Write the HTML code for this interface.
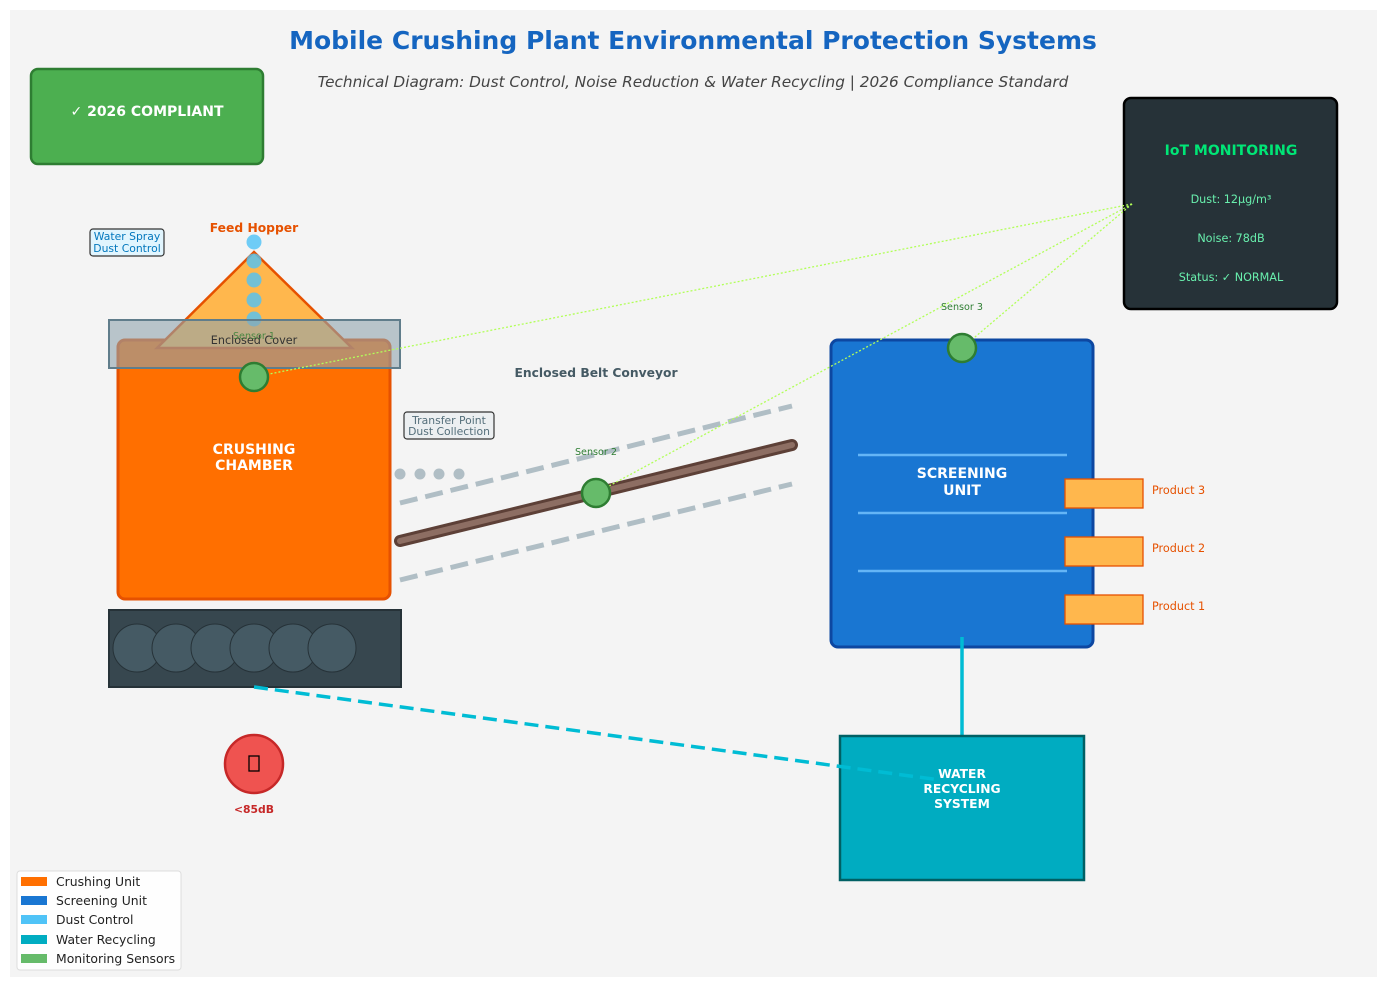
<!DOCTYPE html>
<html><head><meta charset="utf-8"><style>
html,body{margin:0;padding:0;background:#fff;}
svg{display:block;font-family:"DejaVu Sans","Liberation Sans",sans-serif;}
</style></head><body>
<svg width="1387" height="987" viewBox="0 0 1387 987" xmlns="http://www.w3.org/2000/svg">
<rect x="0" y="0" width="1387" height="987" fill="#fff"/>
<rect x="10" y="10" width="1367" height="967" fill="#f4f4f4"/>
<text x="693" y="49" text-anchor="middle" font-size="25" font-weight="bold" fill="#1565c0">Mobile Crushing Plant Environmental Protection Systems</text>
<text x="693" y="87" text-anchor="middle" font-size="15.3" font-style="italic" fill="#444">Technical Diagram: Dust Control, Noise Reduction &amp; Water Recycling | 2026 Compliance Standard</text>
<rect x="31" y="69" width="232" height="95" rx="7" fill="#4caf50" stroke="#2e7d32" stroke-width="2.5"/>
<text x="147" y="116" text-anchor="middle" font-size="14" font-weight="bold" fill="#fff">✓ 2026 COMPLIANT</text>
<rect x="1124" y="98" width="213" height="211" rx="7" fill="#263238" stroke="#000" stroke-width="2.5"/>
<text x="1231" y="155" text-anchor="middle" font-size="14" font-weight="bold" fill="#00e676">IoT MONITORING</text>
<text x="1231" y="203" text-anchor="middle" font-size="11.2" fill="#69f0ae">Dust: 12μg/m³</text>
<text x="1231" y="242" text-anchor="middle" font-size="11.2" fill="#69f0ae">Noise: 78dB</text>
<text x="1231" y="281" text-anchor="middle" font-size="11.2" fill="#69f0ae">Status: ✓ NORMAL</text>
<rect x="118" y="340" width="272" height="259" rx="7" fill="#ff6f00" stroke="#e65100" stroke-width="3"/>
<text x="254" y="454" text-anchor="middle" font-size="14" font-weight="bold" fill="#fff">CRUSHING</text>
<text x="254" y="470" text-anchor="middle" font-size="14" font-weight="bold" fill="#fff">CHAMBER</text>
<polygon points="254,252 157,348 352,348" fill="#ffb74d" stroke="#e65100" stroke-width="2.5"/>
<text x="254" y="232" text-anchor="middle" font-size="12.3" font-weight="bold" fill="#e65100">Feed Hopper</text>
<g fill="#4fc3f7" opacity="0.8"><circle cx="254" cy="242" r="7.5"/><circle cx="254" cy="261" r="7.5"/><circle cx="254" cy="280" r="7.5"/><circle cx="254" cy="300" r="7.5"/><circle cx="254" cy="319" r="7.5"/></g>
<rect x="109" y="320" width="291" height="48" fill="#90a4ae" fill-opacity="0.6" stroke="#607d8b" stroke-width="2"/>
<text x="254" y="344" text-anchor="middle" font-size="11.2" fill="#333">Enclosed Cover</text>
<text x="254" y="339" text-anchor="middle" font-size="9.6" fill="#2e7d32" opacity="0.8">Sensor 1</text>
<rect x="90" y="229" width="74" height="27" rx="3" fill="#e1f5fe" stroke="#333" stroke-width="1.2"/>
<text x="127" y="240" text-anchor="middle" font-size="10.8" fill="#0277bd">Water Spray</text>
<text x="127" y="252" text-anchor="middle" font-size="10.8" fill="#0277bd">Dust Control</text>
<rect x="404" y="412" width="90" height="27" rx="3" fill="#eceff1" stroke="#333" stroke-width="1.2"/>
<text x="449" y="424" text-anchor="middle" font-size="10.8" fill="#546e7a">Transfer Point</text>
<text x="449" y="435" text-anchor="middle" font-size="10.8" fill="#546e7a">Dust Collection</text>
<g fill="#b0bec5"><circle cx="400" cy="474" r="5.5"/><circle cx="420" cy="474" r="5.5"/><circle cx="439" cy="474" r="5.5"/><circle cx="459" cy="474" r="5.5"/></g>
<rect x="109" y="610" width="292" height="77" fill="#37474f" stroke="#263238" stroke-width="2"/>
<g fill="#455a64" stroke="#263238" stroke-width="1"><circle cx="137" cy="648" r="24"/><circle cx="176" cy="648" r="24"/><circle cx="215" cy="648" r="24"/><circle cx="254" cy="648" r="24"/><circle cx="293" cy="648" r="24"/><circle cx="332" cy="648" r="24"/></g>
<circle cx="254" cy="764" r="29" fill="#ef5350" stroke="#c62828" stroke-width="2.5"/>
<rect x="249" y="756" width="10" height="15" fill="none" stroke="#000" stroke-width="1.3"/>
<text x="254" y="813" text-anchor="middle" font-size="10.8" font-weight="bold" fill="#c62828">&lt;85dB</text>
<line x1="400" y1="503" x2="792" y2="406" stroke="#b0bec5" stroke-width="5" stroke-dasharray="18,8"/>
<line x1="400" y1="580" x2="792" y2="484" stroke="#b0bec5" stroke-width="5" stroke-dasharray="18,8"/>
<line x1="400" y1="541" x2="792" y2="445" stroke="#5d4037" stroke-width="12" stroke-linecap="round"/>
<line x1="400" y1="541" x2="792" y2="445" stroke="#8d6e63" stroke-width="6" stroke-linecap="round"/>
<text x="596" y="377" text-anchor="middle" font-size="12.3" font-weight="bold" fill="#455a64">Enclosed Belt Conveyor</text>
<rect x="831" y="340" width="262" height="307" rx="7" fill="#1976d2" stroke="#0d47a1" stroke-width="3"/>
<g stroke="#64b5f6" stroke-width="2.5"><line x1="858" y1="455" x2="1067" y2="455"/><line x1="858" y1="513" x2="1067" y2="513"/><line x1="858" y1="571" x2="1067" y2="571"/></g>
<text x="962" y="478" text-anchor="middle" font-size="14" font-weight="bold" fill="#fff">SCREENING</text>
<text x="962" y="495" text-anchor="middle" font-size="14" font-weight="bold" fill="#fff">UNIT</text>
<g fill="#ffb74d" stroke="#e65100" stroke-width="1.3"><rect x="1065" y="479" width="78" height="29"/><rect x="1065" y="537" width="78" height="29"/><rect x="1065" y="595" width="78" height="29"/></g>
<g font-size="11.2" fill="#e65100"><text x="1152" y="494">Product 3</text><text x="1152" y="552">Product 2</text><text x="1152" y="610">Product 1</text></g>
<line x1="962" y1="637" x2="962" y2="737" stroke="#00bcd4" stroke-width="3.5"/>
<rect x="840" y="736" width="244" height="144" fill="#00acc1" stroke="#006064" stroke-width="2.5"/>
<text x="962" y="778" text-anchor="middle" font-size="12.3" font-weight="bold" fill="#fff">WATER</text>
<text x="962" y="793" text-anchor="middle" font-size="12.3" font-weight="bold" fill="#fff">RECYCLING</text>
<text x="962" y="808" text-anchor="middle" font-size="12.3" font-weight="bold" fill="#fff">SYSTEM</text>
<line x1="254" y1="687" x2="940" y2="780" stroke="#00bcd4" stroke-width="3.5" stroke-dasharray="14,7"/>
<g stroke="#b2ff59" stroke-width="1.3" stroke-dasharray="2,2"><line x1="1132" y1="204" x2="254" y2="377"/><line x1="1132" y1="204" x2="596" y2="493"/><line x1="1132" y1="204" x2="962" y2="348"/></g>
<g fill="#66bb6a" stroke="#2e7d32" stroke-width="2.5"><circle cx="254" cy="377" r="14"/><circle cx="596" cy="493" r="14"/><circle cx="962" cy="348" r="14"/></g>
<text x="596" y="455" text-anchor="middle" font-size="9.6" fill="#2e7d32">Sensor 2</text>
<text x="962" y="310" text-anchor="middle" font-size="9.6" fill="#2e7d32">Sensor 3</text>
<rect x="17" y="871" width="164" height="99" rx="3" fill="#fff" fill-opacity="0.85" stroke="#ddd" stroke-width="1"/>
<rect x="21" y="877" width="26" height="9" fill="#ff6f00"/><text x="56" y="886" font-size="12.4" fill="#222">Crushing Unit</text>
<rect x="21" y="896" width="26" height="9" fill="#1976d2"/><text x="56" y="905" font-size="12.4" fill="#222">Screening Unit</text>
<rect x="21" y="915" width="26" height="9" fill="#4fc3f7"/><text x="56" y="924" font-size="12.4" fill="#222">Dust Control</text>
<rect x="21" y="935" width="26" height="9" fill="#00acc1"/><text x="56" y="944" font-size="12.4" fill="#222">Water Recycling</text>
<rect x="21" y="954" width="26" height="9" fill="#66bb6a"/><text x="56" y="963" font-size="12.4" fill="#222">Monitoring Sensors</text>
</svg>
</body></html>
